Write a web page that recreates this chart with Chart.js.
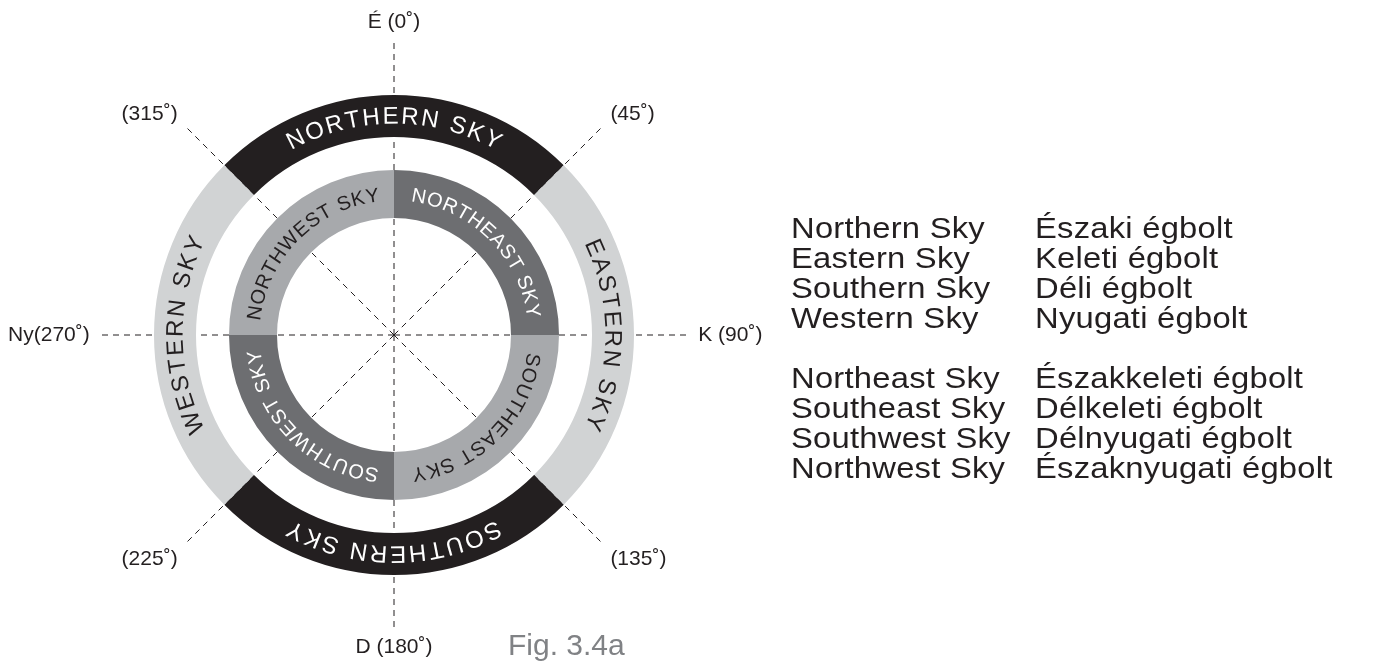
<!DOCTYPE html>
<html>
<head>
<meta charset="utf-8">
<script src="https://cdn.jsdelivr.net/npm/chart.js@4/dist/chart.umd.min.js"></script>
<style>
  html,body{margin:0;padding:0;background:#fff;}
  #wrap{position:relative;width:1375px;height:670px;overflow:hidden;font-family:Arial,"Liberation Sans",Helvetica,sans-serif;color:#231f20;}
  #sky{position:absolute;left:0;top:0;}
  .col{position:absolute;font-size:29px;line-height:30px;letter-spacing:0.2px;white-space:nowrap;transform:scaleX(1.13);transform-origin:0 0;}
  .col div{height:30px;}
  #fig{position:absolute;left:508px;top:630px;font-size:30px;line-height:30px;color:#808285;}
</style>
</head>
<body>
<div id="wrap">
  <canvas id="sky" width="1375" height="670"></canvas>
  <div class="col" id="enTop" style="left:791px;top:213px"></div>
  <div class="col" id="huTop" style="left:1035px;top:213px"></div>
  <div class="col" id="enBot" style="left:791px;top:363px"></div>
  <div class="col" id="huBot" style="left:1035px;top:363px"></div>
  <div id="fig">Fig. 3.4a</div>
</div>
<script>
// ---- data ----
const outerLabels = ["NORTHERN SKY","EASTERN SKY","SOUTHERN SKY","WESTERN SKY"];
const outerSpan   = [90,90,90,90];          // degrees, starting at 315°
const innerLabels = ["NORTHEAST SKY","SOUTHEAST SKY","SOUTHWEST SKY","NORTHWEST SKY"];
const innerSpan   = [90,90,90,90];          // degrees, starting at 0°
const bearings      = [0,45,90,135,180,225,270,315];
const bearingLabels = ["É (0˚)","(45˚)","K (90˚)","(135˚)","D (180˚)","(225˚)","Ny(270˚)","(315˚)"];
const mainEn = ["Northern Sky","Eastern Sky","Southern Sky","Western Sky"];
const mainHu = ["Északi égbolt","Keleti égbolt","Déli égbolt","Nyugati égbolt"];
const diagEn = ["Northeast Sky","Southeast Sky","Southwest Sky","Northwest Sky"];
const diagHu = ["Északkeleti égbolt","Délkeleti égbolt","Délnyugati égbolt","Északnyugati égbolt"];

// ---- colours ----
const INK="#231f20", LIGHT="#d1d3d4", DARK="#6d6e71", MID="#a7a9ac";
const outerColors=[INK,LIGHT,INK,LIGHT], outerText=["#fff",INK,"#fff",INK];
const innerColors=[DARK,MID,DARK,MID],   innerText=["#fff",INK,"#fff",INK];
const FONT='Arial,"Liberation Sans",Helvetica,sans-serif';

function fillCol(id, arr){
  document.getElementById(id).innerHTML = arr.map(t=>`<div>${t}</div>`).join("");
}
fillCol("enTop",mainEn); fillCol("huTop",mainHu);
fillCol("enBot",diagEn); fillCol("huBot",diagHu);

// text bent along an arc, read clockwise, letter tops outward
function arcText(ctx, text, cx, cy, r, mid, size, spacing, color){
  ctx.save();
  ctx.font = size+"px "+FONT;
  ctx.fillStyle = color;
  ctx.textAlign = "center";
  ctx.textBaseline = "middle";
  const ws = [...text].map(ch=>ctx.measureText(ch).width);
  const total = ws.reduce((s,w)=>s+w,0)+spacing*(ws.length-1);
  let pos = -total/2;
  [...text].forEach((ch,i)=>{
    const a = mid + (pos+ws[i]/2)/r;
    ctx.save();
    ctx.translate(cx+r*Math.cos(a), cy+r*Math.sin(a));
    ctx.rotate(a+Math.PI/2);
    ctx.fillText(ch,0,1);
    ctx.restore();
    pos += ws[i]+spacing;
  });
  ctx.restore();
}

const compass = {
  id:"compass",
  beforeDatasetsDraw(chart){
    const ctx = chart.ctx;
    const arc = chart.getDatasetMeta(0).data[0];
    const {x,y,outerRadius} = arc.getProps(["x","y","outerRadius"],true);
    const len = outerRadius*1.222;
    ctx.save();
    ctx.strokeStyle = INK; ctx.lineWidth = 1; ctx.setLineDash([6,5]);
    ctx.fillStyle = INK; ctx.font = "21px "+FONT;
    bearings.forEach((b,i)=>{
      const s = Math.sin(b*Math.PI/180), c = Math.cos(b*Math.PI/180);
      const ex = x+len*s, ey = y-len*c;
      ctx.beginPath(); ctx.moveTo(x,y); ctx.lineTo(ex,ey); ctx.stroke();
      let tx=ex, ty=ey;
      ctx.textBaseline = "middle";
      if(Math.abs(s)<0.01){ ctx.textAlign="center"; ty = ey + (c>0?-20:19); }
      else if(Math.abs(c)<0.01){ ctx.textAlign = s>0?"left":"right"; tx = ex + (s>0?11:-11); }
      else { ctx.textAlign = s>0?"left":"right"; tx = ex + (s>0?9:-9); ty = ey + (c>0?-13:17); }
      ctx.fillText(bearingLabels[i],tx,ty);
    });
    ctx.restore();
  },
  afterDatasetsDraw(chart){
    const ctx = chart.ctx;
    [[0,outerLabels,outerText,24,2.8],[2,innerLabels,innerText,20,1.4]].forEach(([di,labels,cols,size,sp])=>{
      chart.getDatasetMeta(di).data.forEach((el,j)=>{
        const p = el.getProps(["x","y","startAngle","endAngle","innerRadius","outerRadius"],true);
        arcText(ctx, labels[j], p.x, p.y, (p.innerRadius+p.outerRadius)/2,
          (p.startAngle+p.endAngle)/2, size, sp, cols[j]);
      });
    });
  }
};

new Chart(document.getElementById("sky"),{
  type:"doughnut",
  data:{
    labels:outerLabels,
    datasets:[
      {data:outerSpan, backgroundColor:outerColors, borderWidth:0, rotation:-45, weight:42},
      {data:[360], backgroundColor:["rgba(0,0,0,0)"], borderWidth:0, weight:33},
      {data:innerSpan, backgroundColor:innerColors, borderWidth:0, rotation:0, weight:48}
    ]
  },
  options:{
    responsive:false, animation:false, events:[],
    cutout:117,
    layout:{padding:{left:154,top:95,right:741,bottom:95}},
    plugins:{legend:{display:false},tooltip:{enabled:false}}
  },
  plugins:[compass]
});
</script>
</body>
</html>
